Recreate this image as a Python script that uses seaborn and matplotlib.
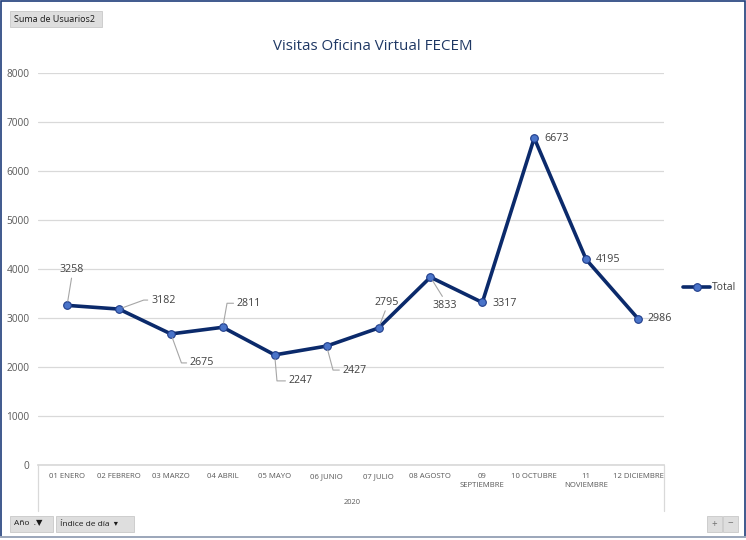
import numpy as np
import pandas as pd
import matplotlib
matplotlib.use("Agg")
import matplotlib.pyplot as plt
import seaborn as sns
from matplotlib.lines import Line2D
from matplotlib.patches import Rectangle

meses = ['01 ENERO', '02 FEBRERO', '03 MARZO', '04 ABRIL', '05 MAYO', '06 JUNIO',
         '07 JULIO', '08 AGOSTO', '09\nSEPTIEMBRE', '10 OCTUBRE', '11\nNOVIEMBRE', '12 DICIEMBRE']
visitas = [3258, 3182, 2675, 2811, 2247, 2427, 2795, 3833, 3317, 6673, 4195, 2986]

# data label placement: offset in pixels, horizontal anchor, leader line style
offsets = [(5, 36), (32, 9), (19, -29), (14, 24), (14, -26), (16, -24),
           (8, 26), (14, -28), (10, -1), (10, 0), (10, 0), (9, 0)]
anclas = ['center', 'left', 'left', 'left', 'left', 'left',
          'center', 'center', 'left', 'left', 'left', 'left']
lideres = ['bottom', 20, -70, 80, -85, -75, 'bottom', 'top', None, None, None, None]

df = pd.DataFrame({'mes': np.arange(len(meses)), 'visitas': visitas})

sns.set_theme(style='white')
plt.rcParams['font.family'] = ['Open Sans', 'DejaVu Sans']

fig = plt.figure(figsize=(7.46, 5.40), dpi=100)
ax = fig.add_axes([38 / 746, 75 / 540, 626 / 746, 392 / 540])

sns.lineplot(data=df, x='mes', y='visitas', ax=ax, color='#0b2a6b', linewidth=2.6,
             marker='o', markersize=5.5, markerfacecolor='#4a74c9',
             markeredgecolor='#1f3d8a', markeredgewidth=0.8, label='Total')

ax.set_xlim(-0.56, len(meses) - 0.5)
ax.set_ylim(0, 8000)
ax.set_yticks(range(0, 8001, 1000))
ax.set_yticklabels([str(v) for v in range(0, 8001, 1000)], fontsize=7.3, color='#595959')
ax.set_xticks(range(len(meses)))
ax.set_xticklabels(meses, fontsize=5.6, color='#595959', linespacing=1.3)
ax.tick_params(axis='x', length=0, pad=6)
ax.tick_params(axis='y', length=0, pad=6)
ax.grid(axis='y', color='#d9d9d9', linewidth=0.9)
ax.set_axisbelow(True)
for s in ['top', 'right', 'left']:
    ax.spines[s].set_visible(False)
ax.spines['bottom'].set_color('#d9d9d9')
ax.set_xlabel('')
ax.set_ylabel('')

for i, v in enumerate(visitas):
    dx, dy = offsets[i]
    kw = {}
    lid = lideres[i]
    if lid is not None:
        props = dict(arrowstyle='-', color='#a6a6a6', lw=0.8, shrinkA=0, shrinkB=3)
        if lid == 'bottom':
            props['relpos'] = (0.5, 0.0)
        elif lid == 'top':
            props['relpos'] = (0.5, 1.0)
        else:
            props['relpos'] = (0.0, 0.5)
            props['connectionstyle'] = 'angle,angleA=0,angleB=%d,rad=0' % lid
        kw['arrowprops'] = props
    ax.annotate(str(v), (i, v), xytext=(dx, dy), textcoords='offset pixels',
                ha=anclas[i], va='center', fontsize=7.7, color='#404040', **kw)

ax.legend(loc='center left', bbox_to_anchor=(1.016, 0.452), frameon=False,
          fontsize=7.5, handlelength=2.6, labelcolor='#404040', handletextpad=0.1)

fig.text(373 / 746, 1 - 47 / 540, 'Visitas Oficina Virtual FECEM', ha='center',
         va='center', fontsize=10.9, color='#1f3864')
fig.text(352 / 746, 1 - 503 / 540, '2020', ha='center', va='center',
         fontsize=5.4, color='#595959')

# category box lines
for xp in [38, 664]:
    fig.add_artist(Line2D([xp / 746, xp / 746], [1 - 465 / 540, 1 - 511 / 540],
                          color='#d9d9d9', lw=0.9))

# pivot buttons
def boton(x0, y0, w, h, texto, fs=6.5):
    fig.add_artist(Rectangle((x0 / 746, 1 - (y0 + h) / 540), w / 746, h / 540,
                             facecolor='#dedede', edgecolor='#c8c8c8', lw=0.6))
    if texto:
        fig.text((x0 + 4) / 746, 1 - (y0 + h / 2) / 540, texto, ha='left', va='center',
                 fontsize=fs, color='#1a1a1a')

boton(10, 11, 92, 16, 'Suma de Usuarios2')
boton(10, 516, 43, 16, 'Año  .\u25BC', fs=6)
boton(56, 516, 78, 16, 'Índice de día  \u25BE', fs=6)
boton(707, 516, 15, 16, '')
boton(723, 516, 15, 16, '')
fig.text(714.5 / 746, 1 - 524 / 540, '+', ha='center', va='center', fontsize=7, color='#707070')
fig.text(730.5 / 746, 1 - 524 / 540, '\u2212', ha='center', va='center', fontsize=7, color='#707070')

# outer frame
fig.add_artist(Rectangle((1 / 746, 3 / 540), 744 / 746, 536 / 540, fill=False,
                         edgecolor='#1f3d7a', lw=1.2))
fig.add_artist(Line2D([0, 1], [3 / 540, 3 / 540], color='#b0b8c4', lw=1.2))

fig.savefig('out.png', dpi=100)
